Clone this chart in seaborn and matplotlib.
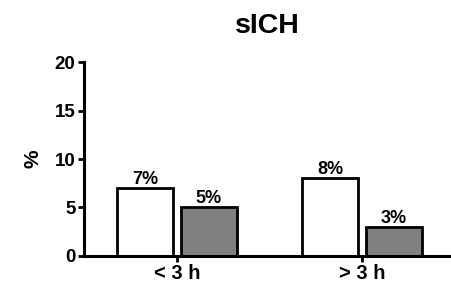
import pandas as pd
import matplotlib
matplotlib.use("Agg")
import matplotlib.pyplot as plt
import seaborn as sns

# values
categories = ["< 3 h", "> 3 h"]
groups = ["group 1", "group 2"]
values_g1 = [7, 8]
values_g2 = [5, 3]
colors = ["#ffffff", "#808080"]

data = pd.DataFrame({
    "time": categories * 2,
    "group": [groups[0]] * 2 + [groups[1]] * 2,
    "pct": values_g1 + values_g2,
})

sns.set_style("ticks", {"axes.edgecolor": "black", "text.color": "black",
                        "xtick.color": "black", "ytick.color": "black",
                        "axes.labelcolor": "black"})
plt.rcParams["font.family"] = ["Liberation Sans", "DejaVu Sans"]
plt.rcParams["font.weight"] = "bold"

fig = plt.figure(figsize=(4.51, 2.86), dpi=100)
ax = fig.add_axes([0.186, 0.105, 0.814, 0.678])

sns.barplot(data=data, x="time", y="pct", hue="group", palette=colors,
            saturation=1, width=0.686, gap=0.12, edgecolor="black",
            linewidth=2.0, legend=False, ax=ax)

for cont in ax.containers:
    ax.bar_label(cont, fmt="%g%%", padding=0, fontsize=13, fontweight="bold",
                 color="black")

ax.set_ylim(0, 20)
ax.set_xlim(-0.503, 1.48)
ax.set_yticks([0, 5, 10, 15, 20])
ax.set_xlabel("")
ax.set_ylabel("%", fontsize=15, fontweight="bold", labelpad=9, color="black")
ax.set_title("sICH", fontsize=20.5, fontweight="bold", pad=21, color="black")

sns.despine(ax=ax)
for s in ["left", "bottom"]:
    ax.spines[s].set_linewidth(2.2)
    ax.spines[s].set_color("black")
ax.tick_params(axis="both", width=2.0, length=4.5, pad=1.5, colors="black")
ax.tick_params(axis="y", labelsize=13.5)
ax.tick_params(axis="x", labelsize=14.5)
for lab in ax.get_xticklabels() + ax.get_yticklabels():
    lab.set_fontweight("bold")

fig.savefig("out.png", dpi=100)
